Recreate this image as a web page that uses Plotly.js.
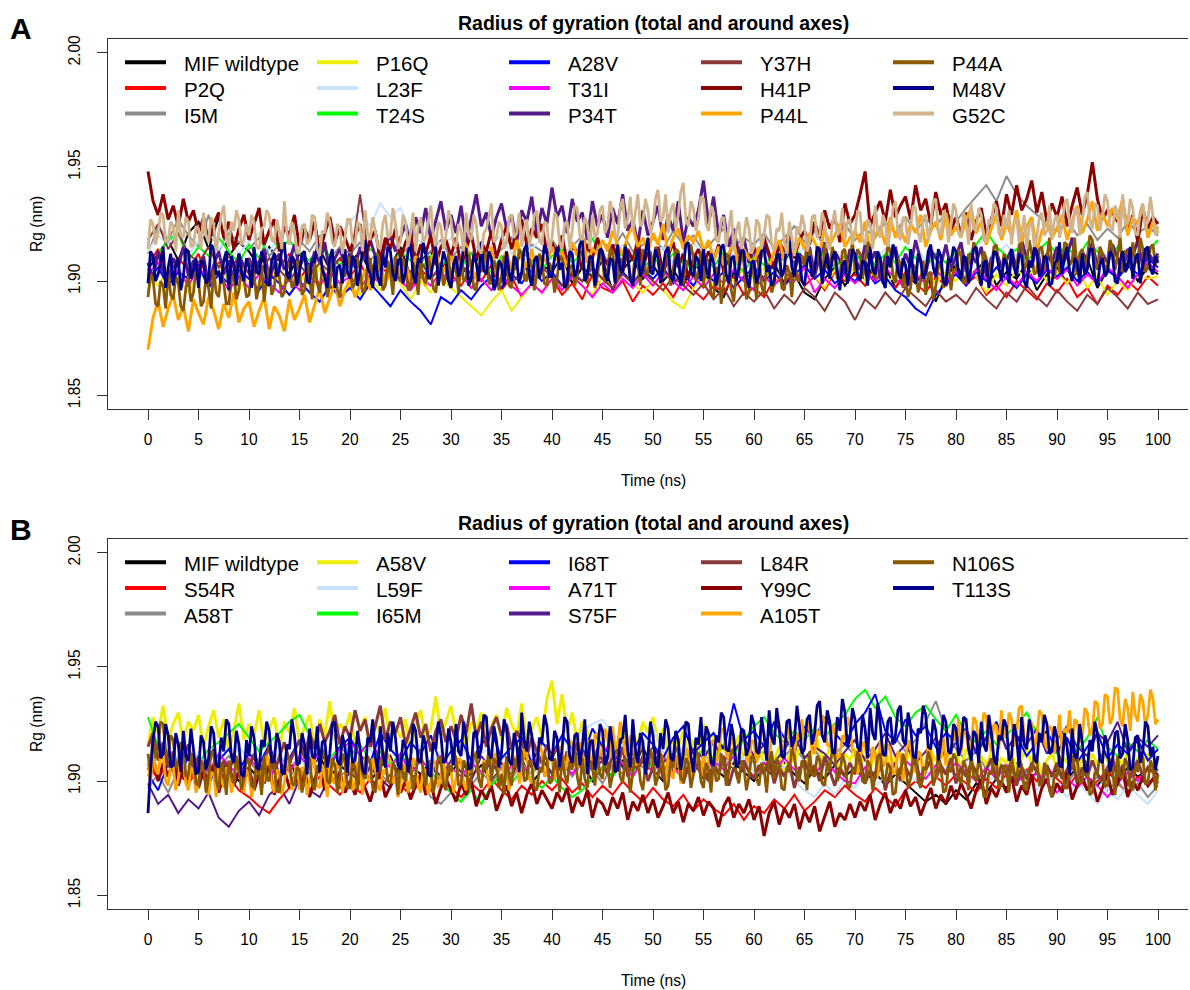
<!DOCTYPE html>
<html>
<head>
<meta charset="utf-8">
<script src="https://cdn.plot.ly/plotly-3.0.1.min.js"></script>
<style>html,body{margin:0;padding:0;background:#fff;overflow:hidden}</style>
</head>
<body>
<div id="chart" style="width:1190px;height:990px"></div>
<script>
// Radius of gyration (nm) over 100 ns MD runs, MIF wildtype and point variants.
// Each series is sampled evenly from 0 to 100 ns.

const timeTicks = [0,5,10,15,20,25,30,35,40,45,50,55,60,65,70,75,80,85,90,95,100];
const rgTicks = [1.85,1.90,1.95,2.00];
const rgTickText = ['1.85','1.90','1.95','2.00'];
const panelTitle = 'Radius of gyration (total and around axes)';

// ---------- Panel A ----------
const namesA = ['MIF wildtype','P2Q','I5M','P16Q','L23F','T24S','A28V','T31I','P34T','Y37H','H41P','P44L','P44A','M48V','G52C'];
const colorsA = ['#000000','#FF0000','#8C8C8C','#EEEE00','#C6E2FF','#00FF00','#0000FF','#FF00FF','#551A8B','#8B3A3A','#8B0000','#FFA500','#8B5A00','#00008B','#D2B48C'];

const rgA_MIF = [
1.905,1.912,1.918,1.909,1.921,1.926,1.914,1.928,1.911,1.917,
1.913,1.906,1.915,1.909,1.903,1.912,1.907,1.914,1.905,1.910,
1.908,1.913,1.904,1.911,1.906,1.915,1.902,1.909,1.913,1.905,
1.911,1.903,1.908,1.914,1.900,1.909,1.905,1.912,1.898,1.907,
1.904,1.911,1.899,1.906,1.902,1.909,1.896,1.905,1.910,1.901,
1.907,1.900,1.905,1.898,1.908,1.903,1.897,1.893,1.904,1.900,
1.906,1.901,1.908,1.899,1.903,1.895,1.892,1.901,1.906,1.898,
1.904,1.909,1.900,1.906,1.897,1.903,1.899,1.905,1.891,1.902,
1.907,1.900,1.905,1.909,1.898,1.904,1.901,1.908,1.896,1.903,
1.906,1.899,1.904,1.910,1.897,1.905,1.902,1.908,1.900,1.906,
1.903];
const rgA_P2Q = [
1.907,1.914,1.902,1.910,1.905,1.912,1.899,1.908,1.904,1.911,
1.903,1.909,1.900,1.906,1.912,1.901,1.907,1.898,1.905,1.910,
1.902,1.908,1.899,1.906,1.903,1.910,1.897,1.905,1.901,1.907,
1.903,1.898,1.905,1.900,1.907,1.896,1.902,1.893,1.899,1.895,
1.901,1.894,1.899,1.892,1.903,1.897,1.895,1.900,1.891,1.898,
1.894,1.899,1.893,1.901,1.896,1.892,1.898,1.895,1.902,1.894,
1.897,1.893,1.901,1.899,1.905,1.898,1.902,1.896,1.904,1.900,
1.903,1.898,1.906,1.901,1.897,1.904,1.899,1.895,1.902,1.898,
1.904,1.899,1.902,1.894,1.898,1.893,1.900,1.896,1.892,1.899,
1.895,1.901,1.893,1.897,1.890,1.898,1.894,1.900,1.896,1.902,
1.898];
const rgA_I5M = [
1.912,1.924,1.918,1.927,1.920,1.915,1.929,1.913,1.921,1.917,
1.914,1.919,1.911,1.916,1.909,1.918,1.913,1.920,1.910,1.915,
1.912,1.917,1.909,1.914,1.919,1.911,1.916,1.908,1.913,1.918,
1.910,1.915,1.912,1.917,1.909,1.914,1.919,1.911,1.916,1.913,
1.918,1.912,1.915,1.920,1.911,1.917,1.914,1.921,1.913,1.916,
1.919,1.914,1.922,1.916,1.920,1.913,1.918,1.923,1.915,1.919,
1.916,1.921,1.914,1.919,1.924,1.917,1.922,1.915,1.920,1.925,
1.918,1.923,1.919,1.926,1.921,1.928,1.922,1.927,1.924,1.930,
1.926,1.932,1.937,1.942,1.935,1.946,1.938,1.933,1.929,1.925,
1.922,1.927,1.920,1.925,1.918,1.923,1.919,1.926,1.921,1.924,
1.920];
const rgA_P16Q = [
1.903,1.898,1.906,1.901,1.895,1.904,1.899,1.907,1.900,1.896,
1.902,1.897,1.905,1.900,1.894,1.903,1.898,1.906,1.899,1.895,
1.898,1.894,1.901,1.896,1.903,1.899,1.892,1.900,1.895,1.901,
1.897,1.893,1.889,1.885,1.891,1.896,1.887,1.893,1.899,1.895,
1.901,1.896,1.903,1.898,1.894,1.902,1.897,1.904,1.899,1.895,
1.900,1.896,1.891,1.888,1.897,1.902,1.898,1.904,1.900,1.905,
1.901,1.906,1.899,1.904,1.900,1.907,1.902,1.897,1.905,1.901,
1.906,1.900,1.904,1.898,1.903,1.907,1.901,1.905,1.899,1.904,
1.900,1.906,1.902,1.895,1.903,1.898,1.905,1.901,1.907,1.900,
1.904,1.899,1.905,1.897,1.902,1.894,1.900,1.896,1.903,1.901,
1.902];
const rgA_L23F = [
1.913,1.920,1.916,1.923,1.911,1.918,1.922,1.914,1.919,1.912,
1.917,1.921,1.913,1.919,1.924,1.916,1.922,1.918,1.925,1.920,
1.926,1.931,1.924,1.934,1.928,1.932,1.921,1.917,1.923,1.915,
1.919,1.913,1.918,1.911,1.916,1.920,1.912,1.917,1.914,1.919,
1.915,1.910,1.917,1.912,1.918,1.913,1.909,1.916,1.911,1.914,
1.910,1.915,1.908,1.913,1.917,1.911,1.914,1.909,1.912,1.916,
1.911,1.914,1.908,1.913,1.910,1.915,1.909,1.912,1.906,1.911,
1.908,1.913,1.910,1.914,1.907,1.911,1.915,1.909,1.912,1.908,
1.913,1.910,1.915,1.909,1.912,1.916,1.911,1.908,1.914,1.910,
1.912,1.907,1.913,1.909,1.915,1.911,1.908,1.913,1.910,1.914,
1.911];
const rgA_T24S = [
1.895,1.912,1.918,1.921,1.909,1.915,1.911,1.919,1.913,1.908,
1.916,1.910,1.921,1.914,1.918,1.912,1.909,1.915,1.911,1.907,
1.912,1.908,1.914,1.910,1.906,1.913,1.909,1.905,1.911,1.907,
1.910,1.906,1.912,1.908,1.904,1.911,1.907,1.913,1.909,1.905,
1.911,1.914,1.908,1.912,1.919,1.910,1.907,1.913,1.909,1.906,
1.910,1.907,1.912,1.908,1.905,1.911,1.906,1.913,1.909,1.904,
1.911,1.907,1.912,1.909,1.914,1.910,1.908,1.913,1.906,1.911,
1.909,1.913,1.907,1.912,1.908,1.915,1.910,1.906,1.912,1.908,
1.913,1.910,1.916,1.922,1.915,1.911,1.914,1.909,1.913,1.917,
1.912,1.915,1.910,1.917,1.913,1.909,1.915,1.911,1.916,1.913,
1.918];
const rgA_A28V = [
1.900,1.906,1.898,1.904,1.901,1.907,1.897,1.903,1.899,1.905,
1.901,1.896,1.903,1.899,1.894,1.900,1.895,1.891,1.898,1.893,
1.897,1.892,1.899,1.894,1.889,1.896,1.891,1.887,1.881,1.893,
1.890,1.896,1.892,1.898,1.902,1.897,1.903,1.899,1.905,1.900,
1.904,1.898,1.903,1.900,1.906,1.901,1.897,1.904,1.899,1.905,
1.901,1.906,1.899,1.903,1.898,1.905,1.900,1.904,1.897,1.902,
1.906,1.900,1.904,1.898,1.903,1.907,1.901,1.905,1.899,1.903,
1.900,1.905,1.899,1.902,1.896,1.893,1.888,1.885,1.894,1.899,
1.903,1.898,1.904,1.900,1.906,1.901,1.897,1.903,1.899,1.905,
1.902,1.906,1.900,1.904,1.899,1.905,1.901,1.907,1.903,1.910,
1.906];
const rgA_T31I = [
1.903,1.908,1.900,1.905,1.898,1.906,1.901,1.904,1.896,1.902,
1.897,1.903,1.899,1.895,1.901,1.896,1.902,1.898,1.904,1.899,
1.902,1.897,1.903,1.899,1.905,1.900,1.896,1.902,1.898,1.904,
1.899,1.903,1.897,1.901,1.896,1.902,1.898,1.894,1.899,1.895,
1.901,1.896,1.902,1.898,1.893,1.899,1.895,1.901,1.897,1.903,
1.898,1.904,1.900,1.896,1.902,1.897,1.903,1.899,1.905,1.900,
1.896,1.902,1.898,1.904,1.900,1.906,1.895,1.901,1.897,1.903,
1.899,1.904,1.900,1.906,1.901,1.897,1.903,1.899,1.905,1.900,
1.904,1.899,1.905,1.901,1.896,1.902,1.898,1.904,1.900,1.906,
1.901,1.905,1.898,1.903,1.899,1.906,1.902,1.897,1.903,1.908,
1.904];
const rgA_P34T = [
1.908,1.901,1.913,1.904,1.899,1.910,1.906,1.915,1.902,1.909,
1.904,1.911,1.898,1.907,1.913,1.903,1.909,1.900,1.912,1.906,
1.910,1.903,1.908,1.914,1.901,1.907,1.912,1.905,1.909,1.916,
1.906,1.911,1.904,1.913,1.908,1.917,1.903,1.910,1.914,1.907,
1.912,1.906,1.915,1.909,1.918,1.911,1.907,1.916,1.920,1.913,
1.919,1.925,1.916,1.928,1.921,1.932,1.918,1.926,1.935,1.922,
1.929,1.921,1.933,1.917,1.927,1.938,1.924,1.930,1.919,1.928,
1.934,1.923,1.929,1.917,1.931,1.926,1.937,1.920,1.932,1.925,
1.941,1.928,1.933,1.921,1.936,1.926,1.930,1.918,1.935,1.924,
1.929,1.919,1.932,1.925,1.938,1.922,1.927,1.916,1.931,1.920,
1.926,1.933,1.918,1.929,1.922,1.935,1.917,1.928,1.924,1.931,
1.944,1.925,1.937,1.920,1.929,1.915,1.923,1.912,1.919,1.908,
1.914,1.907,1.917,1.911,1.905,1.916,1.909,1.913,1.904,1.912,
1.908,1.915,1.902,1.911,1.917,1.906,1.913,1.909,1.903,1.914,
1.910,1.905,1.916,1.908,1.913,1.901,1.911,1.907,1.915,1.904,
1.912,1.906,1.918,1.909,1.903,1.914,1.910,1.907,1.916,1.905,
1.911,1.917,1.904,1.912,1.908,1.915,1.902,1.910,1.913,1.906,
1.909,1.914,1.905,1.918,1.910,1.906,1.916,1.903,1.912,1.908,
1.915,1.907,1.911,1.919,1.904,1.913,1.909,1.917,1.906,1.912,
1.908,1.916,1.910,1.904,1.914,1.911,1.918,1.906,1.913,1.909,
1.912];
const rgA_Y37H = [
1.918,1.925,1.914,1.921,1.912,1.908,1.915,1.906,1.911,1.904,
1.909,1.903,1.910,1.905,1.900,1.907,1.902,1.908,1.904,1.910,
1.906,1.938,1.905,1.911,1.903,1.908,1.904,1.909,1.901,1.906,
1.903,1.908,1.900,1.905,1.902,1.907,1.899,1.904,1.901,1.906,
1.902,1.898,1.904,1.900,1.906,1.901,1.897,1.903,1.899,1.904,
1.900,1.896,1.902,1.898,1.894,1.899,1.892,1.897,1.889,1.895,
1.891,1.896,1.888,1.894,1.890,1.897,1.893,1.887,1.895,1.891,
1.883,1.892,1.888,1.895,1.890,1.897,1.893,1.889,1.896,1.891,
1.894,1.890,1.897,1.892,1.888,1.895,1.891,1.898,1.893,1.889,
1.896,1.891,1.887,1.894,1.890,1.897,1.893,1.888,1.895,1.890,
1.892];
const rgA_H41P = [
1.948,1.935,1.929,1.938,1.927,1.933,1.924,1.936,1.926,1.931,
1.921,1.928,1.917,1.925,1.930,1.919,1.926,1.914,1.923,1.929,
1.918,1.925,1.932,1.916,1.922,1.927,1.913,1.924,1.920,1.929,
1.915,1.923,1.918,1.926,1.912,1.921,1.928,1.917,1.924,1.919,
1.913,1.920,1.925,1.911,1.918,1.922,1.909,1.919,1.914,1.923,
1.910,1.917,1.921,1.908,1.916,1.912,1.920,1.907,1.915,1.918,
1.911,1.919,1.906,1.914,1.921,1.909,1.917,1.913,1.922,1.910,
1.918,1.924,1.914,1.921,1.927,1.916,1.923,1.919,1.925,1.912,
1.917,1.911,1.920,1.908,1.915,1.913,1.905,1.916,1.910,1.919,
1.912,1.907,1.916,1.910,1.904,1.914,1.909,1.918,1.906,1.913,
1.908,1.915,1.903,1.911,1.917,1.906,1.912,1.901,1.910,1.914,
1.907,1.913,1.909,1.916,1.904,1.911,1.918,1.908,1.914,1.910,
1.915,1.909,1.919,1.912,1.906,1.917,1.913,1.921,1.910,1.918,
1.922,1.916,1.926,1.919,1.931,1.923,1.928,1.917,1.934,1.925,
1.929,1.938,1.948,1.924,1.930,1.935,1.926,1.940,1.928,1.933,
1.937,1.927,1.942,1.931,1.936,1.925,1.939,1.929,1.934,1.922,
1.928,1.921,1.930,1.918,1.926,1.932,1.920,1.927,1.935,1.924,
1.938,1.929,1.942,1.931,1.936,1.944,1.930,1.939,1.926,1.934,
1.928,1.937,1.924,1.933,1.941,1.929,1.938,1.952,1.936,1.927,
1.931,1.930,1.926,1.935,1.921,1.929,1.917,1.932,1.923,1.928,
1.925];
const rgA_P44L = [
1.870,1.884,1.891,1.880,1.888,1.894,1.883,1.889,1.878,1.892,
1.886,1.881,1.893,1.887,1.879,1.890,1.884,1.895,1.882,1.888,
1.891,1.880,1.887,1.893,1.879,1.889,1.885,1.878,1.892,1.883,
1.888,1.894,1.882,1.890,1.897,1.886,1.893,1.899,1.889,1.896,
1.901,1.893,1.898,1.905,1.896,1.902,1.908,1.899,1.904,1.910,
1.903,1.908,1.900,1.911,1.905,1.898,1.909,1.914,1.902,1.907,
1.911,1.904,1.909,1.916,1.906,1.901,1.912,1.907,1.915,1.903,
1.909,1.913,1.905,1.918,1.910,1.906,1.914,1.902,1.911,1.908,
1.915,1.909,1.913,1.906,1.917,1.911,1.920,1.908,1.914,1.912,
1.918,1.913,1.922,1.916,1.911,1.920,1.924,1.915,1.919,1.913,
1.921,1.916,1.925,1.912,1.919,1.923,1.914,1.920,1.917,1.922,
1.913,1.918,1.909,1.915,1.907,1.912,1.917,1.906,1.914,1.910,
1.908,1.915,1.911,1.906,1.913,1.918,1.909,1.916,1.912,1.919,
1.914,1.921,1.917,1.912,1.923,1.916,1.920,1.925,1.915,1.919,
1.922,1.917,1.926,1.913,1.920,1.924,1.916,1.928,1.919,1.923,
1.917,1.925,1.921,1.929,1.915,1.922,1.926,1.918,1.930,1.920,
1.924,1.919,1.927,1.932,1.921,1.926,1.916,1.923,1.929,1.918,
1.925,1.920,1.931,1.917,1.924,1.928,1.913,1.922,1.926,1.919,
1.923,1.929,1.918,1.926,1.933,1.921,1.927,1.935,1.922,1.930,
1.924,1.932,1.927,1.936,1.920,1.928,1.925,1.933,1.919,1.926,
1.921];
const rgA_P44A = [
1.893,1.903,1.901,1.890,1.889,1.900,1.898,1.888,1.904,1.894,1.892,1.902,1.899,1.889,1.887,1.897,1.902,1.891,1.895,1.905,
1.900,1.889,1.891,1.902,1.897,1.888,1.905,1.895,1.893,1.904,1.899,1.890,1.890,1.900,1.903,1.892,1.896,1.906,1.901,1.893,
1.894,1.905,1.903,1.892,1.898,1.907,1.891,1.901,1.906,1.894,1.897,1.908,1.902,1.893,1.895,1.906,1.908,1.897,1.899,1.909,
1.904,1.894,1.896,1.907,1.901,1.892,1.909,1.899,1.895,1.906,1.903,1.893,1.898,1.910,1.906,1.896,1.893,1.904,1.902,1.911,
1.907,1.897,1.899,1.910,1.905,1.895,1.896,1.908,1.910,1.900,1.901,1.912,1.906,1.896,1.898,1.909,1.904,1.894,1.911,1.902,
1.900,1.910,1.906,1.896,1.897,1.908,1.903,1.894,1.909,1.901,1.899,1.911,1.905,1.897,1.895,1.906,1.908,1.898,1.902,1.912,
1.897,1.908,1.905,1.895,1.910,1.900,1.901,1.912,1.907,1.897,1.896,1.906,1.904,1.913,1.911,1.899,1.899,1.909,1.906,1.896,
1.902,1.911,1.908,1.898,1.897,1.907,1.905,1.914,1.912,1.901,1.900,1.910,1.906,1.896,1.903,1.912,1.909,1.899,1.898,1.908,
1.905,1.895,1.901,1.911,1.910,1.900,1.896,1.906,1.907,1.898,1.903,1.913,1.912,1.901,1.899,1.909,1.906,1.897,1.902,1.912,
1.909,1.899,1.904,1.914,1.913,1.902,1.900,1.910,1.907,1.916,1.911,1.901,1.902,1.912,1.908,1.898,1.914,1.905,1.903,1.913,
1.906,1.915,1.912,1.902,1.901,1.911,1.909,1.898,1.905,1.914,1.913,1.903,1.899,1.909,1.907,1.916,1.910,1.900,1.904,1.913,
1.897,1.910,1.909,1.894,1.893,1.906,1.905,1.890,1.900,1.912,1.911,1.896,1.891,1.904,1.903,1.913,1.908,1.892,1.895,1.907,
1.902,1.892,1.910,1.898,1.894,1.908,1.906,1.895,1.899,1.911,1.912,1.897,1.896,1.907,1.904,1.893,1.909,1.901,1.900,1.911,
1.907,1.917,1.913,1.902,1.903,1.914,1.910,1.900,1.916,1.906,1.905,1.915,1.911,1.901,1.902,1.913,1.914,1.904,1.908,1.918,
1.904,1.914,1.912,1.901,1.909,1.917,1.915,1.905,1.901,1.911,1.910,1.899,1.906,1.916,1.913,1.903,1.899,1.910,1.907,1.897,
1.903,1.893,1.897,1.907,1.906,1.895,1.900,1.909,1.894,1.903,1.904,1.892,1.898,1.906,1.908,1.897,1.901,1.910,1.896,1.905,
1.905,1.914,1.911,1.899,1.900,1.912,1.908,1.917,1.914,1.904,1.903,1.913,1.910,1.900,1.906,1.915,1.916,1.905,1.902,1.912,
1.909,1.902,1.913,1.906,1.905,1.916,1.917,1.904,1.908,1.918,1.912,1.903,1.904,1.914,1.915,1.905,1.910,1.919,1.907,1.901,
1.913,1.904,1.906,1.917,1.916,1.907,1.909,1.919,1.903,1.912,1.914,1.905,1.910,1.920,1.918,1.908,1.905,1.915,1.912,1.903,
1.908,1.918,1.915,1.905,1.911,1.920,1.904,1.913,1.913,1.906,1.917,1.908,1.909,1.919,1.914,1.904,1.906,1.915,1.916,1.907,
1.911];
const rgA_M48V = [
1.899,1.913,1.911,1.900,1.903,1.908,1.915,1.897,1.906,1.912,1.898,1.907,1.910,1.896,1.902,1.914,1.913,1.901,1.905,1.910,
1.897,1.909,1.908,1.899,1.901,1.916,1.914,1.903,1.904,1.899,1.909,1.913,1.896,1.911,1.907,1.898,1.912,1.904,1.900,1.910,
1.906,1.897,1.915,1.904,1.903,1.913,1.910,1.899,1.898,1.909,1.912,1.902,1.905,1.914,1.917,1.903,1.901,1.911,1.909,1.898,
1.904,1.912,1.913,1.900,1.899,1.910,1.908,1.915,1.916,1.905,1.902,1.897,1.910,1.914,1.897,1.906,1.907,1.899,1.914,1.904,
1.901,1.911,1.909,1.898,1.905,1.914,1.918,1.906,1.903,1.897,1.911,1.902,1.898,1.912,1.906,1.915,1.913,1.903,1.900,1.909,
1.910,1.899,1.904,1.913,1.916,1.903,1.899,1.910,1.908,1.917,1.912,1.901,1.902,1.908,1.915,1.898,1.905,1.913,1.909,1.900,
1.897,1.907,1.911,1.902,1.906,1.915,1.914,1.898,1.901,1.912,1.908,1.900,1.917,1.905,1.903,1.913,1.910,1.896,1.899,1.909,
1.907,1.898,1.913,1.904,1.900,1.911,1.909,1.899,1.904,1.914,1.916,1.903,1.898,1.909,1.911,1.901,1.906,1.916,1.912,1.902,
1.902,1.910,1.915,1.905,1.908,1.897,1.899,1.913,1.912,1.902,1.905,1.916,1.918,1.900,1.903,1.911,1.910,1.898,1.907,1.914,
1.913,1.903,1.900,1.910,1.909,1.899,1.916,1.905,1.904,1.915,1.911,1.901,1.898,1.908,1.914,1.902,1.906,1.912,1.919,1.904,
1.903,1.914,1.910,1.899,1.907,1.913,1.915,1.902,1.900,1.909,1.912,1.898,1.905,1.916,1.917,1.904,1.902,1.911,1.909,1.900,
1.914,1.906,1.901,1.912,1.908,1.898,1.904,1.915,1.916,1.903,1.899,1.910,1.911,1.900,1.906,1.914,1.913,1.902,1.897,1.908,
1.909,1.899,1.903,1.913,1.915,1.904,1.907,1.898,1.900,1.911,1.912,1.902,1.905,1.917,1.918,1.906,1.902,1.912,1.910,1.900,
1.898,1.908,1.911,1.902,1.904,1.915,1.914,1.899,1.907,1.912,1.901,1.910,1.913,1.903,1.896,1.907,1.909,1.899,1.905,1.914,
1.912,1.903,1.900,1.909,1.908,1.898,1.915,1.905,1.903,1.913,1.910,1.900,1.897,1.911,1.906,1.916,1.913,1.904,1.901,1.910,
1.907,1.898,1.914,1.905,1.899,1.912,1.909,1.901,1.904,1.913,1.916,1.906,1.902,1.914,1.911,1.900,1.898,1.910,1.908,1.915,
1.913,1.904,1.901,1.911,1.910,1.899,1.906,1.914,1.915,1.903,1.898,1.908,1.909,1.897,1.903,1.913,1.912,1.905,1.900,1.910,
1.908,1.899,1.914,1.906,1.902,1.912,1.911,1.900,1.897,1.909,1.906,1.915,1.913,1.902,1.904,1.911,1.910,1.898,1.899,1.908,
1.909,1.917,1.903,1.911,1.915,1.904,1.900,1.910,1.908,1.899,1.912,1.903,1.905,1.914,1.914,1.901,1.898,1.907,1.910,1.902,
1.904,1.913,1.911,1.900,1.899,1.909,1.913,1.904,1.906,1.915,1.901,1.910,1.912,1.899,1.907,1.914,1.915,1.905,1.903,1.911,
1.908];
const rgA_G52C = [
1.914,1.927,1.925,1.916,1.921,1.930,1.929,1.917,1.918,1.926,1.924,1.913,1.931,1.920,1.919,1.928,1.926,1.915,1.916,1.924,
1.923,1.914,1.930,1.920,1.917,1.928,1.925,1.913,1.921,1.929,1.933,1.919,1.915,1.926,1.922,1.931,1.927,1.916,1.918,1.925,
1.920,1.929,1.926,1.915,1.914,1.923,1.924,1.931,1.929,1.918,1.917,1.927,1.922,1.914,1.935,1.921,1.916,1.926,1.921,1.912,
1.913,1.924,1.925,1.916,1.918,1.929,1.928,1.914,1.911,1.922,1.921,1.930,1.926,1.917,1.915,1.925,1.923,1.912,1.919,1.927,
1.927,1.917,1.916,1.926,1.924,1.913,1.931,1.921,1.918,1.928,1.922,1.915,1.914,1.925,1.929,1.919,1.920,1.932,1.925,1.914,
1.917,1.929,1.926,1.915,1.921,1.930,1.913,1.924,1.928,1.917,1.919,1.927,1.933,1.920,1.916,1.926,1.924,1.914,1.920,1.931,
1.927,1.916,1.915,1.925,1.922,1.913,1.930,1.920,1.918,1.929,1.925,1.914,1.912,1.921,1.923,1.928,1.934,1.917,1.919,1.926,
1.924,1.914,1.917,1.928,1.929,1.919,1.921,1.930,1.915,1.923,1.927,1.916,1.920,1.929,1.931,1.918,1.916,1.926,1.925,1.913,
1.919,1.930,1.928,1.917,1.914,1.925,1.926,1.915,1.922,1.933,1.932,1.920,1.918,1.928,1.925,1.914,1.929,1.919,1.921,1.931,
1.933,1.921,1.924,1.935,1.930,1.920,1.919,1.932,1.936,1.923,1.927,1.937,1.922,1.930,1.938,1.924,1.926,1.936,1.931,1.921,
1.925,1.936,1.940,1.926,1.928,1.938,1.921,1.931,1.934,1.923,1.929,1.939,1.943,1.927,1.924,1.935,1.932,1.922,1.927,1.937,
1.936,1.925,1.922,1.933,1.930,1.918,1.917,1.927,1.928,1.915,1.924,1.931,1.913,1.922,1.926,1.914,1.919,1.928,1.923,1.912,
1.915,1.927,1.925,1.914,1.920,1.929,1.928,1.916,1.913,1.923,1.922,1.930,1.917,1.912,1.926,1.918,1.911,1.924,1.921,1.929,
1.924,1.913,1.917,1.928,1.929,1.919,1.920,1.930,1.926,1.915,1.914,1.925,1.931,1.920,1.922,1.932,1.918,1.926,1.927,1.916,
1.921,1.931,1.930,1.918,1.916,1.927,1.925,1.914,1.933,1.922,1.919,1.929,1.926,1.915,1.922,1.932,1.935,1.921,1.918,1.928,
1.927,1.916,1.923,1.933,1.932,1.921,1.917,1.928,1.929,1.918,1.925,1.935,1.936,1.922,1.920,1.931,1.928,1.917,1.924,1.934,
1.931,1.921,1.919,1.930,1.926,1.916,1.934,1.923,1.922,1.932,1.929,1.918,1.917,1.927,1.925,1.934,1.932,1.921,1.920,1.929,
1.923,1.931,1.916,1.925,1.928,1.917,1.921,1.929,1.914,1.924,1.926,1.915,1.919,1.928,1.930,1.920,1.922,1.933,1.918,1.927,
1.929,1.919,1.924,1.934,1.936,1.925,1.921,1.932,1.931,1.920,1.926,1.937,1.939,1.927,1.923,1.934,1.933,1.922,1.928,1.938,
1.935,1.924,1.922,1.933,1.930,1.919,1.938,1.926,1.925,1.936,1.932,1.921,1.920,1.931,1.934,1.923,1.927,1.937,1.929,1.920,
1.924];

const seriesA = [rgA_MIF, rgA_P2Q, rgA_I5M, rgA_P16Q, rgA_L23F, rgA_T24S, rgA_A28V, rgA_T31I,
                 rgA_P34T, rgA_Y37H, rgA_H41P, rgA_P44L, rgA_P44A, rgA_M48V, rgA_G52C];

// ---------- Panel B ----------
const namesB = ['MIF wildtype','S54R','A58T','A58V','L59F','I65M','I68T','A71T','S75F','L84R','Y99C','A105T','N106S','T113S'];
const colorsB = ['#000000','#FF0000','#8C8C8C','#EEEE00','#C6E2FF','#00FF00','#0000FF','#FF00FF','#551A8B','#8B3A3A','#8B0000','#FFA500','#8B5A00','#00008B'];

const rgB_MIF = [
1.908,1.903,1.910,1.905,1.899,1.907,1.902,1.909,1.904,1.900,
1.906,1.901,1.908,1.903,1.910,1.898,1.905,1.911,1.902,1.907,
1.903,1.909,1.900,1.906,1.911,1.901,1.907,1.903,1.909,1.898,
1.904,1.909,1.902,1.907,1.900,1.906,1.903,1.910,1.899,1.905,
1.901,1.907,1.903,1.908,1.900,1.906,1.902,1.909,1.904,1.915,
1.905,1.900,1.907,1.903,1.909,1.901,1.906,1.902,1.908,1.904,
1.900,1.906,1.902,1.908,1.903,1.899,1.905,1.901,1.907,1.902,
1.906,1.900,1.904,1.898,1.903,1.899,1.895,1.891,1.894,1.890,
1.896,1.892,1.899,1.895,1.901,1.897,1.903,1.899,1.904,1.900,
1.905,1.901,1.906,1.902,1.898,1.904,1.900,1.906,1.902,1.905,
1.903];
const rgB_S54R = [
1.907,1.901,1.908,1.903,1.899,1.905,1.900,1.906,1.902,1.896,
1.893,1.889,1.886,1.892,1.897,1.901,1.896,1.902,1.898,1.894,
1.900,1.895,1.901,1.897,1.903,1.898,1.894,1.900,1.896,1.902,
1.897,1.893,1.899,1.895,1.901,1.896,1.892,1.898,1.894,1.900,
1.896,1.901,1.895,1.899,1.893,1.898,1.894,1.900,1.895,1.891,
1.897,1.892,1.889,1.894,1.887,1.892,1.888,1.885,1.890,1.883,
1.889,1.886,1.892,1.888,1.894,1.887,1.891,1.896,1.893,1.898,
1.894,1.891,1.897,1.893,1.889,1.896,1.900,1.897,1.902,1.898,
1.903,1.899,1.895,1.901,1.897,1.903,1.899,1.905,1.900,1.906,
1.901,1.897,1.903,1.896,1.900,1.905,1.899,1.895,1.902,1.898,
1.903];
const rgB_A58T = [
1.897,1.903,1.895,1.905,1.900,1.908,1.902,1.906,1.911,1.904,
1.909,1.903,1.907,1.912,1.905,1.901,1.908,1.904,1.910,1.902,
1.906,1.900,1.907,1.903,1.899,1.905,1.897,1.902,1.893,1.890,
1.895,1.891,1.898,1.904,1.899,1.906,1.901,1.908,1.903,1.909,
1.904,1.910,1.902,1.908,1.905,1.899,1.907,1.903,1.911,1.906,
1.909,1.904,1.911,1.902,1.907,1.913,1.905,1.910,1.906,1.912,
1.908,1.913,1.906,1.911,1.915,1.909,1.914,1.907,1.912,1.916,
1.911,1.917,1.910,1.914,1.919,1.913,1.918,1.926,1.935,1.922,
1.914,1.909,1.913,1.905,1.911,1.903,1.908,1.904,1.906,1.900,
1.904,1.899,1.905,1.897,1.902,1.896,1.900,1.894,1.899,1.893,
1.898];
const rgB_A58V = [
1.916,1.928,1.921,1.933,1.918,1.925,1.930,1.917,1.926,1.922,
1.929,1.915,1.924,1.931,1.919,1.927,1.913,1.922,1.934,1.918,
1.925,1.920,1.931,1.916,1.923,1.928,1.914,1.926,1.921,1.932,
1.917,1.924,1.929,1.915,1.927,1.920,1.935,1.918,1.925,1.922,
1.930,1.916,1.923,1.928,1.914,1.926,1.921,1.932,1.917,1.924,
1.919,1.927,1.913,1.925,1.931,1.918,1.923,1.937,1.920,1.926,
1.933,1.921,1.928,1.915,1.926,1.922,1.930,1.917,1.924,1.929,
1.918,1.932,1.925,1.920,1.934,1.916,1.923,1.928,1.919,1.936,
1.944,1.925,1.938,1.921,1.930,1.917,1.926,1.922,1.913,1.920,
1.915,1.922,1.911,1.918,1.924,1.913,1.920,1.916,1.926,1.921,
1.928,1.917,1.923,1.912,1.919,1.915,1.922,1.910,1.918,1.913,
1.925,1.918,1.921,1.911,1.916,1.909,1.914,1.920,1.907,1.913,
1.910,1.917,1.906,1.913,1.909,1.915,1.904,1.912,1.908,1.914,
1.911,1.906,1.924,1.913,1.908,1.915,1.910,1.905,1.912,1.909,
1.914,1.907,1.911,1.905,1.913,1.909,1.916,1.903,1.910,1.912,
1.908,1.914,1.906,1.911,1.904,1.913,1.909,1.915,1.907,1.910,
1.912,1.906,1.914,1.909,1.903,1.911,1.907,1.913,1.905,1.910,
1.908,1.913,1.904,1.910,1.915,1.907,1.911,1.902,1.909,1.912,
1.906,1.911,1.908,1.914,1.903,1.910,1.906,1.912,1.907,1.913,
1.909,1.904,1.911,1.907,1.913,1.905,1.910,1.908,1.912,1.906,
1.910];
const rgB_L59F = [
1.907,1.914,1.904,1.911,1.906,1.913,1.903,1.910,1.908,1.915,
1.909,1.916,1.905,1.912,1.907,1.910,1.904,1.913,1.908,1.915,
1.911,1.906,1.914,1.909,1.917,1.905,1.912,1.916,1.908,1.913,
1.910,1.916,1.907,1.912,1.915,1.909,1.914,1.918,1.911,1.916,
1.912,1.919,1.913,1.922,1.925,1.927,1.921,1.916,1.911,1.917,
1.923,1.913,1.908,1.915,1.909,1.912,1.905,1.911,1.906,1.910,
1.904,1.909,1.902,1.907,1.900,1.896,1.893,1.899,1.894,1.901,
1.897,1.903,1.898,1.902,1.899,1.905,1.900,1.904,1.901,1.906,
1.902,1.897,1.904,1.899,1.903,1.900,1.895,1.901,1.896,1.903,
1.898,1.893,1.900,1.895,1.890,1.897,1.892,1.898,1.894,1.890,
1.896];
const rgB_I65M = [
1.928,1.915,1.910,1.906,1.912,1.908,1.914,1.917,1.921,1.925,
1.919,1.913,1.917,1.921,1.926,1.929,1.920,1.914,1.910,1.915,
1.911,1.916,1.909,1.913,1.907,1.912,1.906,1.910,1.904,1.899,
1.895,1.891,1.896,1.890,1.898,1.903,1.899,1.905,1.901,1.897,
1.902,1.897,1.893,1.896,1.901,1.906,1.902,1.908,1.904,1.910,
1.906,1.911,1.907,1.913,1.909,1.914,1.910,1.916,1.912,1.918,
1.924,1.928,1.921,1.917,1.922,1.918,1.923,1.919,1.925,1.929,
1.936,1.940,1.932,1.937,1.928,1.924,1.930,1.933,1.927,1.922,
1.929,1.921,1.917,1.922,1.916,1.920,1.925,1.930,1.921,1.916,
1.912,1.918,1.913,1.919,1.928,1.915,1.911,1.917,1.913,1.918,
1.914];
const rgB_I68T = [
1.903,1.896,1.908,1.900,1.911,1.904,1.898,1.909,1.914,1.905,
1.912,1.907,1.916,1.903,1.910,1.918,1.908,1.913,1.906,1.915,
1.919,1.911,1.908,1.921,1.914,1.909,1.917,1.912,1.920,1.907,
1.913,1.918,1.909,1.916,1.922,1.910,1.915,1.919,1.908,1.917,
1.912,1.920,1.914,1.909,1.923,1.915,1.911,1.918,1.913,1.921,
1.916,1.910,1.919,1.924,1.912,1.917,1.921,1.914,1.934,1.918,
1.922,1.915,1.926,1.919,1.913,1.924,1.918,1.928,1.921,1.916,
1.925,1.930,1.938,1.922,1.917,1.927,1.920,1.924,1.915,1.921,
1.918,1.923,1.912,1.919,1.926,1.914,1.920,1.911,1.917,1.922,
1.913,1.919,1.908,1.915,1.921,1.910,1.916,1.912,1.918,1.909,
1.914];
const rgB_A71T = [
1.909,1.903,1.911,1.906,1.900,1.908,1.904,1.912,1.907,1.902,
1.910,1.905,1.901,1.909,1.904,1.911,1.906,1.913,1.908,1.914,
1.917,1.912,1.918,1.910,1.906,1.912,1.903,1.909,1.905,1.911,
1.906,1.902,1.908,1.904,1.910,1.899,1.907,1.903,1.909,1.905,
1.901,1.908,1.903,1.910,1.905,1.912,1.918,1.907,1.902,1.909,
1.904,1.910,1.906,1.901,1.908,1.903,1.909,1.905,1.911,1.907,
1.902,1.908,1.904,1.910,1.905,1.907,1.903,1.909,1.904,1.900,
1.899,1.906,1.902,1.908,1.903,1.909,1.905,1.901,1.907,1.903,
1.908,1.904,1.900,1.906,1.901,1.907,1.903,1.898,1.904,1.899,
1.895,1.901,1.897,1.902,1.898,1.893,1.899,1.904,1.900,1.906,
1.902];
const rgB_S75F = [
1.899,1.890,1.894,1.886,1.892,1.888,1.895,1.884,1.880,1.887,
1.891,1.885,1.894,1.898,1.890,1.901,1.896,1.893,1.902,1.897,
1.904,1.899,1.906,1.901,1.897,1.908,1.903,1.900,1.907,1.902,
1.909,1.904,1.900,1.911,1.905,1.908,1.902,1.912,1.906,1.910,
1.903,1.911,1.907,1.914,1.905,1.909,1.913,1.906,1.912,1.908,
1.915,1.908,1.912,1.906,1.914,1.910,1.917,1.909,1.913,1.919,
1.911,1.916,1.908,1.914,1.920,1.910,1.915,1.912,1.907,1.913,
1.918,1.909,1.914,1.921,1.911,1.916,1.908,1.913,1.919,1.910,
1.917,1.922,1.913,1.919,1.925,1.914,1.920,1.916,1.923,1.912,
1.918,1.924,1.915,1.911,1.921,1.917,1.926,1.913,1.919,1.915,
1.920];
const rgB_L84R = [
1.915,1.921,1.909,1.917,1.906,1.913,1.902,1.910,1.916,1.905,
1.911,1.904,1.908,1.914,1.901,1.909,1.903,1.912,1.907,1.900,
1.906,1.912,1.903,1.909,1.915,1.904,1.911,1.917,1.908,1.913,
1.918,1.910,1.921,1.914,1.925,1.917,1.922,1.929,1.916,1.924,
1.919,1.931,1.922,1.927,1.915,1.924,1.933,1.918,1.926,1.921,
1.928,1.916,1.923,1.930,1.919,1.925,1.913,1.922,1.927,1.917,
1.924,1.918,1.929,1.921,1.934,1.919,1.926,1.915,1.923,1.928,
1.920,1.925,1.914,1.922,1.917,1.911,1.919,1.913,1.908,1.916,
1.910,1.915,1.906,1.913,1.908,1.917,1.904,1.911,1.907,1.914,
1.909,1.903,1.912,1.906,1.915,1.902,1.910,1.905,1.911,1.900,
1.906,1.911,1.901,1.908,1.904,1.910,1.899,1.907,1.903,1.909,
1.905,1.900,1.908,1.903,1.911,1.898,1.906,1.902,1.909,1.904,
1.901,1.907,1.903,1.910,1.899,1.906,1.902,1.908,1.897,1.905,
1.909,1.903,1.907,1.900,1.911,1.904,1.898,1.906,1.902,1.908,
1.903,1.910,1.899,1.905,1.901,1.909,1.896,1.904,1.908,1.900,
1.906,1.902,1.911,1.898,1.905,1.909,1.901,1.907,1.903,1.910,
1.899,1.906,1.902,1.908,1.904,1.897,1.905,1.910,1.900,1.907,
1.903,1.909,1.898,1.906,1.901,1.908,1.904,1.899,1.907,1.902,
1.908,1.901,1.905,1.911,1.899,1.906,1.902,1.909,1.903,1.900,
1.906,1.910,1.901,1.907,1.898,1.905,1.909,1.902,1.906,1.904,
1.905];
const rgB_Y99C = [
1.905,1.911,1.900,1.908,1.902,1.909,1.898,1.906,1.901,1.904,
1.897,1.905,1.899,1.907,1.895,1.903,1.908,1.898,1.904,1.900,
1.906,1.896,1.903,1.899,1.907,1.894,1.901,1.905,1.897,1.902,
1.898,1.905,1.893,1.901,1.906,1.896,1.903,1.899,1.904,1.895,
1.900,1.894,1.902,1.897,1.891,1.899,1.904,1.893,1.898,1.901,
1.895,1.900,1.892,1.898,1.903,1.894,1.899,1.890,1.897,1.901,
1.896,1.891,1.899,1.894,1.900,1.889,1.896,1.892,1.898,1.887,
1.893,1.898,1.889,1.895,1.886,1.894,1.899,1.890,1.896,1.892,
1.888,1.895,1.891,1.897,1.886,1.893,1.889,1.896,1.884,1.892,
1.890,1.885,1.893,1.888,1.895,1.883,1.891,1.887,1.894,1.886,
1.892,1.884,1.889,1.895,1.886,1.891,1.882,1.890,1.887,1.893,
1.885,1.891,1.888,1.880,1.889,1.893,1.884,1.890,1.886,1.892,
1.883,1.889,1.876,1.886,1.891,1.881,1.888,1.884,1.890,1.879,
1.887,1.882,1.889,1.878,1.885,1.891,1.880,1.886,1.883,1.890,
1.884,1.891,1.887,1.894,1.883,1.890,1.895,1.886,1.892,1.888,
1.896,1.889,1.893,1.885,1.891,1.897,1.888,1.894,1.890,1.898,
1.892,1.899,1.894,1.888,1.896,1.901,1.890,1.897,1.893,1.900,
1.895,1.902,1.891,1.898,1.894,1.903,1.889,1.897,1.901,1.893,
1.899,1.895,1.904,1.892,1.898,1.902,1.896,1.900,1.891,1.897,
1.903,1.894,1.899,1.905,1.893,1.900,1.896,1.902,1.898,1.901,
1.899];
const rgB_A105T = [
1.908,1.898,1.915,1.905,1.903,1.912,1.911,1.900,1.898,1.907,1.906,1.896,1.901,1.910,1.909,1.899,1.896,1.906,1.904,1.895,
1.899,1.909,1.907,1.896,1.894,1.904,1.903,1.893,1.910,1.901,1.897,1.906,1.905,1.895,1.900,1.910,1.908,1.898,1.895,1.905,
1.903,1.893,1.898,1.908,1.906,1.897,1.901,1.911,1.909,1.899,1.895,1.905,1.904,1.894,1.899,1.909,1.907,1.896,1.902,1.910,
1.896,1.906,1.905,1.894,1.900,1.910,1.908,1.898,1.897,1.907,1.903,1.893,1.910,1.900,1.899,1.908,1.906,1.895,1.901,1.911,
1.907,1.896,1.898,1.908,1.904,1.894,1.911,1.901,1.900,1.910,1.906,1.897,1.896,1.905,1.903,1.912,1.909,1.899,1.902,1.893,
1.897,1.907,1.905,1.895,1.901,1.910,1.908,1.898,1.895,1.906,1.904,1.894,1.899,1.909,1.906,1.897,1.902,1.911,1.898,1.907,
1.905,1.895,1.901,1.910,1.909,1.899,1.896,1.906,1.904,1.913,1.910,1.900,1.900,1.909,1.907,1.897,1.903,1.912,1.911,1.901,
1.898,1.908,1.906,1.896,1.902,1.911,1.909,1.899,1.904,1.914,1.912,1.901,1.899,1.910,1.907,1.916,1.913,1.902,1.903,1.912,
1.910,1.901,1.905,1.915,1.914,1.904,1.908,1.918,1.916,1.907,1.906,1.917,1.912,1.903,1.918,1.910,1.909,1.920,1.921,1.911,
1.913,1.923,1.919,1.910,1.924,1.914,1.915,1.926,1.921,1.912,1.911,1.920,1.917,1.907,1.908,1.918,1.914,1.904,1.906,1.913,
1.910,1.900,1.903,1.913,1.908,1.898,1.912,1.904,1.901,1.911,1.909,1.899,1.905,1.914,1.913,1.903,1.902,1.912,1.911,1.901,
1.914,1.904,1.907,1.917,1.918,1.908,1.911,1.923,1.922,1.912,1.909,1.919,1.916,1.906,1.912,1.922,1.920,1.910,1.908,1.918,
1.917,1.908,1.913,1.923,1.921,1.911,1.910,1.920,1.919,1.928,1.925,1.915,1.914,1.924,1.920,1.909,1.911,1.921,1.918,1.927,
1.916,1.926,1.923,1.913,1.912,1.922,1.920,1.929,1.926,1.916,1.915,1.925,1.921,1.910,1.911,1.920,1.918,1.928,1.924,1.914,
1.913,1.903,1.908,1.917,1.916,1.906,1.905,1.915,1.912,1.902,1.918,1.908,1.907,1.916,1.914,1.904,1.903,1.913,1.911,1.900,
1.909,1.918,1.915,1.905,1.904,1.913,1.912,1.902,1.906,1.916,1.914,1.903,1.901,1.911,1.910,1.919,1.907,1.914,1.913,1.922,
1.917,1.927,1.912,1.921,1.922,1.913,1.915,1.928,1.926,1.916,1.918,1.930,1.928,1.917,1.913,1.925,1.924,1.914,1.931,1.920,
1.919,1.930,1.927,1.915,1.921,1.932,1.933,1.919,1.916,1.926,1.925,1.914,1.920,1.931,1.929,1.917,1.914,1.924,1.923,1.912,
1.918,1.929,1.912,1.923,1.921,1.931,1.915,1.927,1.926,1.917,1.919,1.932,1.930,1.920,1.922,1.935,1.934,1.923,1.925,1.938,
1.937,1.925,1.928,1.941,1.940,1.927,1.924,1.936,1.932,1.922,1.939,1.929,1.926,1.938,1.935,1.924,1.929,1.940,1.936,1.925,
1.927];
const rgB_N106S = [
1.912,1.904,1.921,1.910,1.915,1.926,1.925,1.913,1.911,1.920,1.918,1.906,1.908,1.917,1.916,1.902,1.903,1.912,1.911,1.899,
1.898,1.909,1.907,1.895,1.902,1.913,1.912,1.900,1.896,1.908,1.905,1.894,1.909,1.902,1.899,1.911,1.906,1.896,1.901,1.910,
1.908,1.898,1.897,1.910,1.904,1.894,1.911,1.901,1.900,1.912,1.906,1.896,1.895,1.907,1.903,1.913,1.909,1.899,1.898,1.906,
1.905,1.895,1.901,1.911,1.910,1.899,1.896,1.907,1.904,1.914,1.912,1.900,1.899,1.910,1.907,1.895,1.902,1.912,1.908,1.897,
1.897,1.909,1.906,1.896,1.913,1.903,1.901,1.911,1.908,1.897,1.895,1.906,1.904,1.913,1.910,1.900,1.899,1.908,1.905,1.894,
1.911,1.902,1.900,1.910,1.907,1.896,1.903,1.912,1.914,1.904,1.898,1.909,1.906,1.895,1.901,1.911,1.909,1.899,1.896,1.907,
1.904,1.913,1.910,1.898,1.899,1.909,1.907,1.896,1.902,1.911,1.912,1.901,1.897,1.908,1.905,1.914,1.900,1.910,1.908,1.897,
1.903,1.894,1.911,1.902,1.898,1.910,1.906,1.915,1.913,1.900,1.901,1.909,1.907,1.897,1.896,1.906,1.904,1.912,1.909,1.899,
1.900,1.910,1.906,1.895,1.911,1.903,1.899,1.908,1.905,1.914,1.902,1.896,1.910,1.901,1.897,1.909,1.906,1.898,1.912,1.903,
1.901,1.911,1.908,1.897,1.903,1.912,1.914,1.902,1.899,1.910,1.907,1.895,1.904,1.913,1.911,1.900,1.896,1.907,1.905,1.914,
1.909,1.898,1.902,1.912,1.907,1.896,1.898,1.909,1.906,1.915,1.913,1.901,1.900,1.910,1.908,1.897,1.903,1.913,1.911,1.900,
1.897,1.908,1.905,1.895,1.910,1.900,1.901,1.912,1.908,1.898,1.904,1.913,1.914,1.903,1.899,1.909,1.906,1.896,1.902,1.911,
1.910,1.901,1.898,1.908,1.905,1.895,1.909,1.913,1.901,1.910,1.907,1.897,1.896,1.906,1.904,1.914,1.911,1.902,1.900,1.909,
1.906,1.896,1.913,1.903,1.902,1.911,1.909,1.899,1.898,1.908,1.905,1.914,1.911,1.900,1.903,1.912,1.908,1.898,1.897,1.906,
1.904,1.913,1.910,1.900,1.899,1.909,1.907,1.896,1.902,1.911,1.912,1.901,1.900,1.908,1.906,1.894,1.895,1.905,1.903,1.912,
1.908,1.897,1.901,1.910,1.911,1.900,1.897,1.906,1.905,1.913,1.909,1.898,1.902,1.911,1.907,1.895,1.896,1.906,1.904,1.912,
1.910,1.901,1.899,1.909,1.906,1.896,1.912,1.902,1.900,1.910,1.905,1.893,1.894,1.904,1.903,1.911,1.908,1.897,1.898,1.907,
1.906,1.895,1.911,1.902,1.901,1.910,1.907,1.897,1.896,1.906,1.904,1.912,1.909,1.898,1.899,1.908,1.905,1.896,1.893,1.903,
1.902,1.911,1.908,1.897,1.897,1.906,1.905,1.913,1.910,1.899,1.900,1.909,1.906,1.894,1.895,1.904,1.903,1.912,1.909,1.898,
1.898,1.908,1.905,1.894,1.911,1.902,1.901,1.910,1.907,1.897,1.896,1.907,1.904,1.913,1.910,1.899,1.899,1.909,1.906,1.896,
1.903];
const rgB_T113S = [
1.886,1.905,1.918,1.926,1.924,1.910,1.912,1.925,1.920,1.906,1.907,1.921,1.916,1.904,1.922,1.911,1.909,1.923,1.914,1.903,
1.904,1.920,1.917,1.905,1.910,1.924,1.921,1.907,1.906,1.919,1.913,1.927,1.925,1.911,1.908,1.922,1.916,1.903,1.902,1.918,
1.911,1.924,1.919,1.906,1.905,1.918,1.915,1.926,1.922,1.908,1.909,1.921,1.917,1.904,1.903,1.916,1.914,1.927,1.920,1.907,
1.908,1.921,1.916,1.903,1.923,1.911,1.910,1.924,1.904,1.917,1.918,1.906,1.912,1.925,1.926,1.909,1.907,1.920,1.915,1.904,
1.921,1.908,1.909,1.922,1.914,1.905,1.903,1.919,1.917,1.927,1.911,1.904,1.924,1.912,1.906,1.921,1.913,1.926,1.919,1.907,
1.905,1.918,1.915,1.904,1.910,1.925,1.922,1.909,1.908,1.920,1.916,1.903,1.902,1.917,1.914,1.926,1.920,1.908,1.909,1.923,
1.917,1.907,1.925,1.913,1.911,1.926,1.919,1.905,1.906,1.921,1.922,1.910,1.914,1.929,1.928,1.912,1.910,1.924,1.918,1.906,
1.912,1.927,1.923,1.909,1.907,1.921,1.916,1.904,1.930,1.918,1.913,1.926,1.920,1.908,1.905,1.919,1.917,1.929,1.924,1.910,
1.909,1.922,1.919,1.906,1.914,1.928,1.926,1.911,1.908,1.920,1.921,1.907,1.915,1.927,1.903,1.917,1.918,1.905,1.912,1.925,
1.922,1.907,1.910,1.924,1.916,1.904,1.905,1.918,1.919,1.929,1.913,1.906,1.927,1.914,1.908,1.921,1.917,1.903,1.911,1.926,
1.920,1.908,1.906,1.921,1.914,1.927,1.923,1.910,1.909,1.922,1.918,1.905,1.912,1.926,1.925,1.911,1.904,1.919,1.916,1.928,
1.911,1.924,1.921,1.908,1.907,1.920,1.917,1.930,1.928,1.914,1.913,1.925,1.919,1.906,1.908,1.923,1.922,1.911,1.915,1.929,
1.925,1.913,1.912,1.928,1.920,1.909,1.931,1.919,1.916,1.932,1.923,1.911,1.910,1.926,1.927,1.915,1.918,1.933,1.924,1.912,
1.914,1.927,1.929,1.916,1.921,1.933,1.935,1.920,1.917,1.931,1.926,1.913,1.912,1.928,1.922,1.936,1.930,1.915,1.919,1.932,
1.927,1.915,1.913,1.929,1.923,1.910,1.932,1.921,1.918,1.934,1.925,1.912,1.911,1.926,1.928,1.916,1.920,1.931,1.933,1.918,
1.916,1.930,1.924,1.911,1.910,1.923,1.921,1.933,1.929,1.915,1.914,1.927,1.922,1.909,1.917,1.929,1.926,1.913,1.912,1.925,
1.923,1.911,1.915,1.928,1.927,1.914,1.909,1.922,1.920,1.908,1.926,1.916,1.913,1.929,1.921,1.910,1.907,1.920,1.918,1.927,
1.924,1.909,1.911,1.925,1.919,1.906,1.928,1.916,1.914,1.927,1.922,1.910,1.908,1.921,1.917,1.929,1.925,1.912,1.913,1.924,
1.919,1.907,1.906,1.921,1.915,1.903,1.923,1.911,1.910,1.925,1.917,1.905,1.904,1.918,1.913,1.926,1.921,1.909,1.908,1.920,
1.916,1.904,1.909,1.921,1.922,1.910,1.912,1.925,1.918,1.905,1.906,1.919,1.920,1.908,1.913,1.926,1.924,1.911,1.915,1.905,
1.911];

const seriesB = [rgB_MIF, rgB_S54R, rgB_A58T, rgB_A58V, rgB_L59F, rgB_I65M, rgB_I68T, rgB_A71T,
                 rgB_S75F, rgB_L84R, rgB_Y99C, rgB_A105T, rgB_N106S, rgB_T113S];

const simLength = 100; // ns

// ---------- figure geometry (pixels) ----------
const W = 1190, H = 990;
const M = {l: 108, r: 2, t: 39, b: 81};
const plotW = W - M.l - M.r, plotH = H - M.t - M.b;
const px = x => (x - M.l) / plotW;           // pixel x -> paper x
const py = y => (H - M.b - y) / plotH;       // pixel y -> paper y
const FONT = 'Liberation Sans, Arial, Helvetica, sans-serif';

// stroke weight by sampling density, so every run reads as a dense band
const strokeFor = n => (n > 300 ? 2.8 : n > 150 ? 3.0 : 2.0);

function makeTraces(series, names, colors, xa, ya) {
  return series.map((vals, i) => ({
    type: 'scatter', mode: 'lines',
    y: vals, x0: 0, dx: simLength / (vals.length - 1),
    name: names[i], xaxis: xa, yaxis: ya,
    line: {color: colors[i], width: strokeFor(vals.length)},
    hoverinfo: 'skip', showlegend: false
  }));
}

const traces = makeTraces(seriesA, namesA, colorsA, 'x', 'y')
  .concat(makeTraces(seriesB, namesB, colorsB, 'x2', 'y2'));

const shapes = [];
const annotations = [];

function addLegend(names, colors, rowTop) {
  names.forEach((nm, i) => {
    const col = Math.floor(i / 3), row = i % 3;
    const y = rowTop + row * 25.6;
    const x0 = 125 + 192 * col;
    shapes.push({type: 'line', xref: 'paper', yref: 'paper',
      x0: px(x0), x1: px(x0 + 41), y0: py(y), y1: py(y),
      line: {color: colors[i], width: 4}});
    annotations.push({text: nm, xref: 'paper', yref: 'paper',
      x: px(x0 + 57), y: py(y + 1.5), xanchor: 'left', yanchor: 'middle',
      showarrow: false, font: {family: FONT, size: 20.5, color: '#000'}});
  });
}

function addPanelText(letter, offset) {
  annotations.push({text: '<b>' + letter + '</b>', xref: 'paper', yref: 'paper',
    x: px(21), y: py(29 + offset), xanchor: 'center', yanchor: 'middle',
    showarrow: false, font: {family: FONT, size: 30, color: '#000'}});
  annotations.push({text: '<b>' + panelTitle + '</b>', xref: 'paper', yref: 'paper',
    x: px(653), y: py(23 + offset), xanchor: 'center', yanchor: 'middle',
    showarrow: false, font: {family: FONT, size: 19.5, color: '#000'}});
  annotations.push({text: 'Time (ns)', xref: 'paper', yref: 'paper',
    x: px(653), y: py(480 + offset), xanchor: 'center', yanchor: 'middle',
    showarrow: false, font: {family: FONT, size: 15.6, color: '#000'}});
  annotations.push({text: 'Rg (nm)', xref: 'paper', yref: 'paper', textangle: -90,
    x: px(36), y: py(224 + offset), xanchor: 'center', yanchor: 'middle',
    showarrow: false, font: {family: FONT, size: 15.6, color: '#000'}});
}

addLegend(namesA, colorsA, 62.3);
addLegend(namesB, colorsB, 562.3);
addPanelText('A', 0);
addPanelText('B', 500);

const xRange = [-40 / 10.1, (plotW - 40) / 10.1];

function xAxis(anchor) {
  return {
    anchor: anchor, domain: [0, 1], range: xRange,
    tickmode: 'array', tickvals: timeTicks, ticktext: timeTicks.map(String),
    ticks: 'outside', ticklen: 10, tickwidth: 1, tickcolor: '#333',
    showline: true, linecolor: '#333', linewidth: 1, mirror: true,
    showgrid: false, zeroline: false,
    tickfont: {family: FONT, size: 15.6, color: '#000'},
    ticklabelstandoff: 6
  };
}
function yAxis(anchor, domain) {
  return {
    anchor: anchor, domain: domain, range: [1.844, 2.006],
    tickmode: 'array', tickvals: rgTicks, ticktext: rgTickText, tickangle: -90,
    ticks: 'outside', ticklen: 10, tickwidth: 1, tickcolor: '#333',
    showline: true, linecolor: '#333', linewidth: 1, mirror: false,
    showgrid: false, zeroline: false,
    tickfont: {family: FONT, size: 15.6, color: '#000'},
    ticklabelstandoff: 11
  };
}

const layout = {
  width: W, height: H, margin: M,
  paper_bgcolor: '#fff', plot_bgcolor: '#fff',
  font: {family: FONT, color: '#000'},
  showlegend: false,
  xaxis: xAxis('y'),
  yaxis: yAxis('x', [500 / plotH, 1]),
  xaxis2: xAxis('y2'),
  yaxis2: yAxis('x2', [0, 370 / plotH]),
  shapes: shapes,
  annotations: annotations
};

Plotly.newPlot('chart', traces, layout, {staticPlot: true, displayModeBar: false});
</script>
</body>
</html>
